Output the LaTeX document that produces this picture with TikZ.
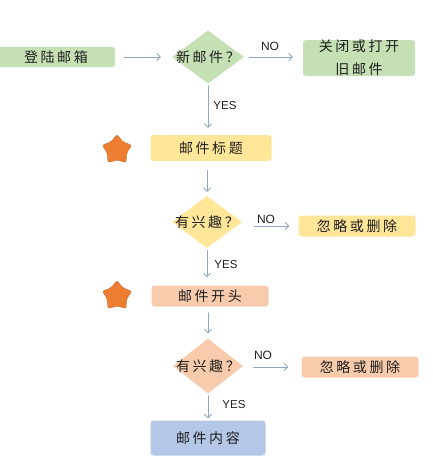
\documentclass[tikz,border=0pt]{standalone}
\usepackage{fontspec}
\setmainfont{Liberation Sans}
\newfontfamily\cjk[LetterSpace=18]{Noto Sans CJK SC}
\usetikzlibrary{shapes.geometric,arrows.meta}
\definecolor{boxgreen}{RGB}{197,224,180}
\definecolor{boxyellow}{RGB}{255,230,153}
\definecolor{boxpeach}{RGB}{248,203,173}
\definecolor{boxblue}{RGB}{180,199,231}
\definecolor{starorange}{RGB}{237,125,49}
\definecolor{arrowblue}{RGB}{143,166,196}
\definecolor{textgray}{RGB}{30,30,30}

\newcommand*{\flowstar}[2]{%
    \node[star,star points=5,star point ratio=1.55,minimum size=31pt,inner sep=0pt,
        fill=starorange,draw=starorange!85!black,rounded corners=2pt] (#1) at #2 {};
}

\begin{document}
\begin{tikzpicture}[x=1pt,y=-1pt,line cap=round,line join=round,
    box/.style={rectangle,rounded corners=3pt,inner sep=0pt,text=textgray,
        font=\cjk\fontsize{14}{23}\selectfont,align=center},
    decision/.style={diamond,aspect=1.4,inner xsep=-8pt,inner ysep=0pt,text=textgray,
        minimum width=72pt,minimum height=53pt,font=\cjk\fontsize{14}{16}\selectfont},
    arrowline/.style={draw=arrowblue,line width=0.8pt,-{Straight Barb[length=3.5pt,width=7pt]},
        shorten <=4pt,shorten >=8pt},
    answer/.style={text=textgray,inner sep=0pt}]
    \useasboundingbox (0,0) rectangle (432,456);
    \node[box,fill=boxgreen,minimum width=118pt,minimum height=20pt] (login) at (56,57) {登陆邮箱};
    \node[decision,fill=boxgreen] (d1) at (208,57) {新邮件？};
    \node[box,fill=boxgreen,minimum width=112pt,minimum height=34pt] (old) at (359,58) {关闭或打开\\旧邮件};
    \node[box,fill=boxyellow,minimum width=121pt,minimum height=26pt] (title) at (211,148) {邮件标题};
    \node[decision,fill=boxyellow,minimum width=70pt,minimum height=52pt] (d2) at (207,222) {有兴趣？};
    \node[box,fill=boxyellow,minimum width=117pt,minimum height=21pt] (ign1) at (357,226) {忽略或删除};
    \node[box,fill=boxpeach,minimum width=117pt,minimum height=21pt] (head) at (210,296) {邮件开头};
    \node[decision,fill=boxpeach,minimum width=70pt,minimum height=55pt] (d3) at (208,366) {有兴趣？};
    \node[box,fill=boxpeach,minimum width=117pt,minimum height=21pt] (ign2) at (360,367) {忽略或删除};
    \node[box,fill=boxblue,minimum width=115pt,minimum height=35pt] (body) at (208,438) {邮件内容};
    \flowstar{star1}{(117,150)}
    \flowstar{star2}{(117,296)}
    \draw[arrowline,shorten <=9pt,shorten >=11pt] (login) -- (d1);
    \draw[arrowline,shorten <=5pt,shorten >=10pt] (d1.east) -- (d1.east -| old.west);
    \draw[arrowline,shorten <=2pt,shorten >=7pt] (d1.south) -- (d1.south |- title.north);
    \draw[arrowline,shorten <=9pt,shorten >=4pt] (title.south -| d2) -- (d2.north);
    \draw[arrowline,shorten <=12pt,shorten >=9pt] (ign1.west -| d2.east) -- (ign1.west);
    \draw[arrowline,shorten <=2pt,shorten >=8pt] (d2.south) -- (d2.south |- head.north);
    \draw[arrowline,shorten <=6pt,shorten >=5pt] (head.south -| d3) -- (d3.north);
    \draw[arrowline,shorten <=10pt,shorten >=13pt] (ign2.west -| d3.east) -- (ign2.west);
    \draw[arrowline,shorten <=2pt,shorten >=2pt] (d3.south) -- (body.north);
    \node[answer,font=\fontsize{12}{14}\selectfont] (no1) at (270,46) {NO};
    \node[answer,font=\fontsize{11.5}{14}\selectfont] (yes1) at (225,106) {YES};
    \node[answer,font=\fontsize{12}{14}\selectfont] (no2) at (266,219) {NO};
    \node[answer,font=\fontsize{11.5}{14}\selectfont] (yes2) at (226,265) {YES};
    \node[answer,font=\fontsize{12}{14}\selectfont] (no3) at (263,355) {NO};
    \node[answer,font=\fontsize{11.5}{14}\selectfont] (yes3) at (234,405) {YES};
\end{tikzpicture}
\end{document}
